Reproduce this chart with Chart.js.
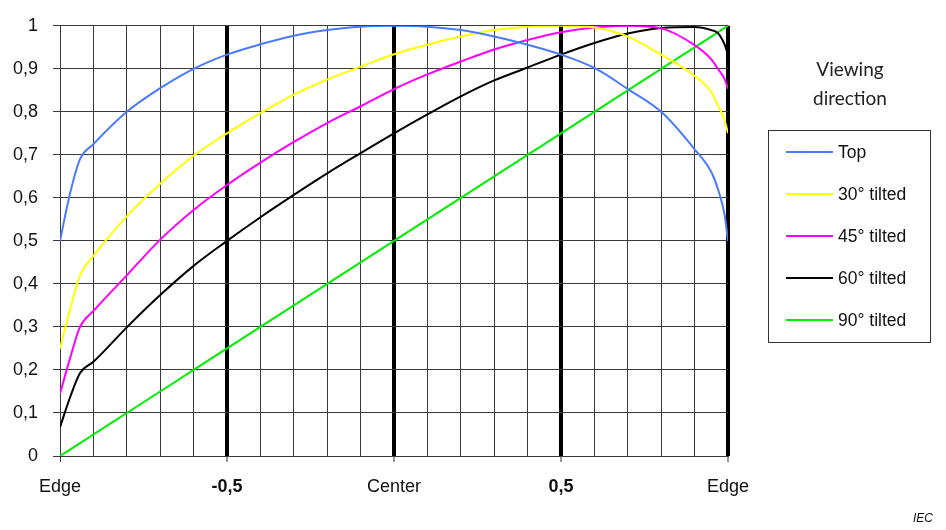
<!DOCTYPE html>
<html>
<head>
<meta charset="utf-8">
<script src="https://cdn.jsdelivr.net/npm/chart.js@4.4.1/dist/chart.umd.min.js"></script>
<style>
    body { margin: 0; background: #fff; }
    #wrap { position: relative; width: 946px; height: 530px; font-family: 'Liberation Sans', Arial, sans-serif; }
    #title { position: absolute; left: 770px; top: 54px; width: 160px; text-align: center;
             font-family: Lato, 'Open Sans', sans-serif; font-size: 19px; line-height: 29px; color: #222; }
    #legend { position: absolute; left: 768px; top: 130px; width: 163px; height: 213px;
              box-sizing: border-box; border: 1px solid #333; }
    .item { position: absolute; left: 0; height: 20px; }
    .item .swatch { position: absolute; left: 17px; top: 9px; width: 47px; height: 2px; }
    .item .lbl { position: absolute; left: 69px; top: 0; font-size: 17.5px; line-height: 20px; white-space: nowrap; color: #111; }
    #iec { position: absolute; left: 913px; top: 511px; font-size: 12px; font-style: italic; color: #111; }
</style>
</head>
<body>
<div id="wrap">
    <canvas id="viewChart"></canvas>
    <div id="title">Viewing<br>direction</div>
    <div id="legend"></div>
    <div id="iec">IEC</div>
</div>
<script>
// Position across the display, Edge (-1) to Center (0) to Edge (1)
const xs = [-1, -0.97, -0.94, -0.9, -0.8, -0.7, -0.6, -0.5, -0.4, -0.3, -0.2, -0.1, 0,
            0.1, 0.2, 0.3, 0.4, 0.5, 0.6, 0.7, 0.8, 0.9, 0.95, 0.97, 0.99, 1];

const topView = [0.5, 0.61, 0.69, 0.725, 0.8, 0.855, 0.9, 0.933, 0.957, 0.977, 0.99, 0.998, 1,
                 0.998, 0.99, 0.975, 0.956, 0.933, 0.902, 0.853, 0.8, 0.713, 0.66, 0.62, 0.56, 0.5];
const tilt30 = [0.25, 0.34, 0.42, 0.465, 0.557, 0.633, 0.698, 0.75, 0.797, 0.84, 0.875, 0.905, 0.934,
                0.956, 0.975, 0.99, 0.998, 1, 0.996, 0.975, 0.933, 0.884, 0.846, 0.815, 0.78, 0.75];
const tilt45 = [0.145, 0.227, 0.3, 0.337, 0.42, 0.503, 0.572, 0.63, 0.682, 0.73, 0.774, 0.813, 0.853,
                0.887, 0.917, 0.945, 0.967, 0.985, 0.996, 1, 0.994, 0.955, 0.922, 0.9, 0.876, 0.853];
const tilt60 = [0.067, 0.136, 0.193, 0.219, 0.299, 0.374, 0.442, 0.5, 0.555, 0.607, 0.657, 0.704, 0.75,
                0.794, 0.836, 0.873, 0.903, 0.933, 0.96, 0.982, 0.995, 0.997, 0.99, 0.983, 0.956, 0.933];
const tilt90 = [0, 0.015, 0.03, 0.05, 0.1, 0.15, 0.2, 0.25, 0.3, 0.35, 0.4, 0.45, 0.5,
                0.55, 0.6, 0.65, 0.7, 0.75, 0.8, 0.85, 0.9, 0.95, 0.975, 0.985, 0.995, 1];

const seriesNames = ['Top', '30° tilted', '45° tilted', '60° tilted', '90° tilted'];
const seriesColors = ['#4a7bff', '#ffff00', '#ff00ff', '#000000', '#00ee00'];
const seriesValues = [topView, tilt30, tilt45, tilt60, tilt90];

const xTickValues = [-1, -0.5, 0, 0.5, 1];
const xTickLabels = ['Edge', '-0,5', 'Center', '0,5', 'Edge'];
const yTickLabels = ['0', '0,1', '0,2', '0,3', '0,4', '0,5', '0,6', '0,7', '0,8', '0,9', '1'];

Chart.defaults.font.family = "'Liberation Sans', Arial, sans-serif";
Chart.defaults.color = '#111';

function labelFor(value) {
    const i = xTickValues.findIndex(v => Math.abs(v - value) < 1e-6);
    return i >= 0 ? xTickLabels[i] : '';
}

// thick lines at -0.5, Center, 0,5 and the right edge
function isMajor(value) {
    return Math.abs(value * 2 - Math.round(value * 2)) < 1e-6 && value > -0.99;
}

const tickValue = c => (c.tick ? c.tick.value : NaN);

const datasets = seriesNames.map((name, i) => ({
    label: name,
    data: xs.map((x, j) => ({ x: x, y: seriesValues[i][j] })),
    borderColor: seriesColors[i],
    borderWidth: 2,
    pointRadius: 0,
    tension: 0.4,
    cubicInterpolationMode: 'monotone',
    fill: false
}));

const ctx = document.getElementById('viewChart').getContext('2d');
new Chart(ctx, {
    type: 'line',
    data: { datasets: datasets },
    options: {
        responsive: true,
        maintainAspectRatio: false,
        animation: false,
        layout: { padding: { left: 8, top: 17, right: 218, bottom: 0 } },
        plugins: { legend: { display: false }, tooltip: { enabled: false } },
        scales: {
            x: {
                type: 'linear',
                min: -1,
                max: 1,
                afterFit: scale => { scale.height = 74; },
                ticks: {
                    stepSize: 0.1,
                    autoSkip: false,
                    maxRotation: 0,
                    padding: 14,
                    font: c => ({ size: 18, weight: Math.abs(Math.abs(tickValue(c)) - 0.5) < 1e-6 ? 'bold' : 'normal' }),
                    callback: value => labelFor(value)
                },
                grid: {
                    color: c => isMajor(tickValue(c)) ? '#000' : '#3a3a3a',
                    lineWidth: c => isMajor(tickValue(c)) ? 4 : 1,
                    tickLength: 6,
                    tickWidth: 1,
                    tickColor: c => labelFor(tickValue(c)) ? '#333' : 'rgba(0,0,0,0)'
                },
                border: { display: true, color: '#3a3a3a', width: 1 }
            },
            y: {
                min: 0,
                max: 1,
                afterFit: scale => { scale.width = 52; },
                ticks: {
                    stepSize: 0.1,
                    padding: 15,
                    font: { size: 18 },
                    callback: (value, index) => yTickLabels[index]
                },
                grid: {
                    color: '#3a3a3a',
                    lineWidth: 1,
                    tickLength: 7
                },
                border: { display: true, color: '#3a3a3a', width: 1 }
            }
        }
    }
});

// Legend box on the right
const legend = document.getElementById('legend');
seriesNames.forEach((name, i) => {
    const row = document.createElement('div');
    row.className = 'item';
    row.style.top = (11 + i * 42) + 'px';
    row.innerHTML = '<div class="swatch" style="background:' + seriesColors[i] + '"></div>' +
                    '<div class="lbl">' + name + '</div>';
    legend.appendChild(row);
});
</script>
</body>
</html>
